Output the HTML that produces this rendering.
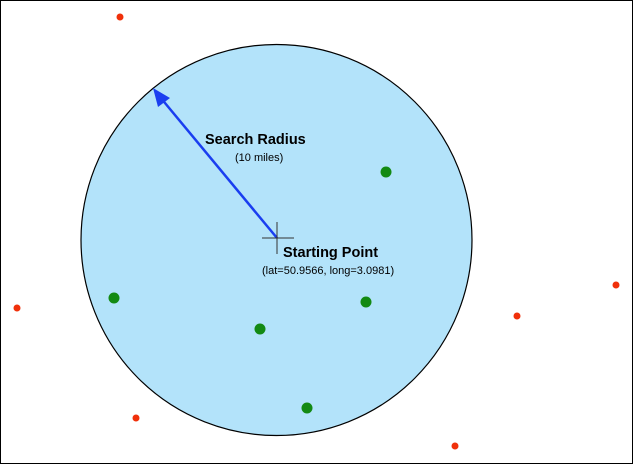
<!DOCTYPE html>
<html><head><style>
html,body{margin:0;padding:0;background:#fff;}
svg{display:block;}
text{font-family:"Liberation Sans",Arial,sans-serif;fill:#000;}
</style></head><body>
<svg width="633" height="464" viewBox="0 0 633 464" xmlns="http://www.w3.org/2000/svg">
<rect x="0.5" y="0.5" width="632" height="463" fill="#fff" stroke="#000" stroke-width="1"/>
<circle cx="276.5" cy="240" r="195.5" fill="#b3e3fa" stroke="#000" stroke-width="1.2"/>
<line x1="277" y1="238" x2="160" y2="97" stroke="#1a3ef0" stroke-width="2.5"/>
<polygon points="153,88 170,98 158,107" fill="#1a3ef0"/>
<line x1="262" y1="238" x2="294" y2="238" stroke="#333" stroke-width="1"/>
<line x1="277" y1="222" x2="277" y2="254" stroke="#333" stroke-width="1"/>
<text x="205" y="144" font-size="14.5" font-weight="bold">Search Radius</text>
<text x="235" y="161" font-size="11">(10 miles)</text>
<text x="283" y="257" font-size="14.5" font-weight="bold">Starting Point</text>
<text x="262" y="274" font-size="11">(lat=50.9566, long=3.0981)</text>
<g fill="#138a13">
<circle cx="386" cy="172" r="5.5"/>
<circle cx="114" cy="298" r="5.5"/>
<circle cx="366" cy="302" r="5.5"/>
<circle cx="260" cy="329" r="5.5"/>
<circle cx="307" cy="408" r="5.5"/>
</g>
<g fill="#f0300a">
<circle cx="120" cy="17" r="3.5"/>
<circle cx="17" cy="308" r="3.5"/>
<circle cx="136" cy="418" r="3.5"/>
<circle cx="455" cy="446" r="3.5"/>
<circle cx="517" cy="316" r="3.5"/>
<circle cx="616" cy="285" r="3.5"/>
</g>
</svg>
</body></html>
